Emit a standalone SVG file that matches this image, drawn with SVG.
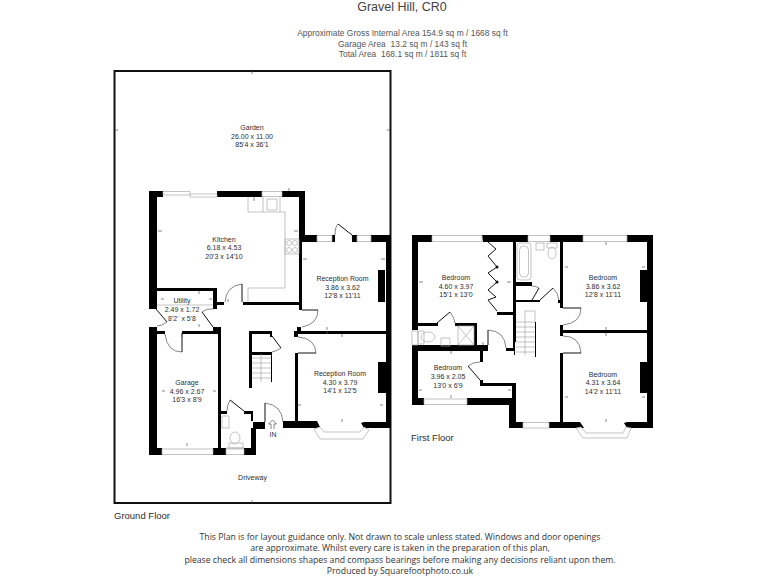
<svg xmlns="http://www.w3.org/2000/svg" width="768" height="576" viewBox="0 0 768 576">
<style>
text{font-family:"Liberation Sans",Arial,sans-serif;fill:#2e2e2e;text-anchor:middle;white-space:pre}
.r{font-size:7px}
.h{font-size:8.4px;fill:#555;letter-spacing:.03px}
.f{font-family:"Open Sans","Liberation Sans",sans-serif;font-size:8.7px;fill:#333}
.fl{font-size:9.5px;text-anchor:start}
.w{fill:#000;stroke:none}
.win{fill:#fff;stroke:#aaa;stroke-width:.7}
.d{fill:none;stroke:#333;stroke-width:.6}
.dl{fill:none;stroke:#111;stroke-width:1}
.st{fill:none;stroke:#aaa;stroke-width:.7}
.t{fill:none;stroke:#555;stroke-width:.7}
</style>
<rect width="768" height="576" fill="#fff"/>
<g id="header">
<text x="402" y="10.500" style="font-size:12.500px;fill:#444">Gravel Hill, CR0</text>
<text class="h" x="402.500" y="36">Approximate Gross Internal Area 154.9 sq m / 1668 sq ft</text>
<text class="h" x="402.500" y="46.500">Garage Area  13.2 sq m / 143 sq ft</text>
<text class="h" x="402.500" y="57">Total Area  168.1 sq m / 1811 sq ft</text>
</g>
<g id="garden"><rect x="114.500" y="71" width="276" height="432" fill="none" stroke="#111" stroke-width="2"/>
<text class="r" x="252" y="130">Garden</text><text class="r" x="252" y="138.500">26.00 x 11.00</text><text class="r" x="252" y="147">85'4 x 36'1</text></g>
<g id="ground-walls">
<path class="w" d="M149 191h14v6h-6v112h-8zM217 191h45v6h-45zM282 191h23v44h12v7h-15v68h-3V197h-17zM332 235h3v7h-3zM352 235h5v7h-5zM371 235h20v193h-27l-3-5 3-1h22V334h-88v3h-4v-6h3v-4h4v4h85V242h-15z"/>
<path class="w" d="M157 288h60v21h-4v-18h-56zM217 302h7v3h-7zM243 302h56v3h-56zM213 327h8v5h-8zM149 327h8v4h8v3h-8v114h5v7h-13zM182 331h39v124h-8v-7h5V334h-36zM226 448h0v7h-13v-7zM244 448h7v-20h2v-7h-2v-7h-7v-3h9v11h12v7h-9v26h-12zM221 411h6v3h-6z"/>
<path class="w" d="M249 331h23v6h-2v-3h-18v54h-3zM252 352h20v30h-1v-27h-19zM283 421h34l3 6-3 1h-34zM295 353h3v68h-3zM378 270h7v32h-7zM378 362h8v31h-8z"/>
<path class="win" d="M163 191.500h27v3.500h-27zM190 194h27v3h-27zM262 191.500h20v5h-20zM317 235.500h15v6h-15zM357 235.500h14v6h-14zM162 449h51v5.500h-51zM226 449h18v5.500h-18z"/>
<path class="win" d="M314 429l6 10h43l6-9-5-3-4 5h-36l-4-5z"/>
</g>
<g id="ground-doors">
<path class="dl" d="M338 224l14 11M156 309l11 13M213 327l-11-15M182 333v19M302 310h16M272 336l9 12M298 353h18M265 403v19M230 400l14 11M242 284v18"/>
<path class="d" d="M335 235q0-8 3-11M167 322q-5 4-10 4M202 312q5-4 11-3M318 310q0 14-16 17M182 352q-15 0-17-18M281 348q-4 3-9 4M298 337q17 1 18 16M265 403q17 2 18 19M230 400q-3 5-3 11M242 284q-16 2-17 18"/>
</g>
<g id="ground-fixtures">
<path class="st" d="M248 197v15h37v76h-37v14M263 197v15M280 197v15M157 305h56M285 239h14v15h-14zM267 199h10v11h-10zM252 358h19M252 363h19M252 368h19M252 373h19M252 378h19M261 354v28M222 416h7v12h-7zM229 443h14v5h-14zM226 448h18"/>
<ellipse class="st" cx="235" cy="438" rx="5" ry="6"/><circle class="st" cx="289" cy="243" r="2.500"/><circle class="st" cx="295" cy="243" r="2.500"/><circle class="st" cx="289" cy="250" r="2.500"/><circle class="st" cx="295" cy="250" r="2.500"/>
<path class="t" d="M271 429v-5h-2.500l4-4 4 4h-2.500v5" />
<path class="t" d="M158 231h4M294 231h4M303 259h4M381 259h4M254 197v4M289 191v-3M228 299v3M199 291v3M199 327v-3M161 299h3M209 299h3M162 391h3M213 391h3M187 446v-3M182 334v3M327 327v3M327 331v3M298 405h3M383 405h-3M342 422v-3M342 334v3M252 71v3M252 503v-3M115 130h3M390 130h-3"/>
</g>
<g id="ground-labels">
<text class="r" x="224" y="241.500">Kitchen</text><text class="r" x="224" y="250">6.18 x 4.53</text><text class="r" x="224" y="259">20'3 x 14'10</text>
<text class="r" x="182" y="303">Utility</text><text class="r" x="182" y="312">2.49 x 1.72</text><text class="r" x="182" y="320.500">8'2` x 5'8</text>
<text class="r" x="342.500" y="281">Reception Room</text><text class="r" x="342.500" y="289.500">3.86 x 3.62</text><text class="r" x="342.500" y="298">12'8 x 11'11</text>
<text class="r" x="340" y="376">Reception Room</text><text class="r" x="340" y="384.500">4.30 x 3.79</text><text class="r" x="340" y="393">14'1 x 12'5</text>
<text class="r" x="187" y="385">Garage</text><text class="r" x="187" y="393.500">4.96 x 2.67</text><text class="r" x="187" y="402">16'3 x 8'9</text>
<text class="r" x="252.500" y="480">Driveway</text><text class="r" x="273" y="437">IN</text>
<text class="fl" x="114" y="519">Ground Floor</text>
</g>
<g id="first-walls">
<path class="w" d="M412 235h20v7h-14v81h20v3h-20v4h-6zM482 235h46v7h-12v58h24v2h-24v40h-1v15h20v-35h1v35h-21v-2h-1v-4h-8v-3h7v-33h-16v-3h16V242h-30z"/>
<path class="w" d="M550 235h33v7h-20v66h-3v-66h-10zM627 235h26v193h-26l-3-5 3-1h20V333h-84v3h-3v-11h3v5h84V242h-20z"/>
<path class="w" d="M560 353h3v69h17l4 6h-35v-6h11zM412 345h76v6h-5v11h-3v-11h-62v47h6v7h-12zM474 323h3v23h-3zM455 323h22v3h-22zM467 398h49v24h7v6h-14v-23h-42zM480 380h3v3h33v15h-4v-12h-32zM516 282h16v4h-16zM558 300h5v3h-5zM640 270h7v32h-7zM640 362h7v31h-7z"/>
<circle class="w" cx="497" cy="267" r="1.500"/><circle class="w" cx="497" cy="282" r="1.500"/>
<path class="win" d="M432 235.500h50v6h-50zM528 235.500h22v6h-22zM583 235.500h44v6h-44zM424 399h43v5.500h-43zM523 422.500h26v5.500h-26zM412 331h6v14h-6z"/>
<path class="win" d="M576 428l7 10h44l4-10-5-1-3 6h-37l-5-6z"/>
</g>
<g id="first-doors">
<path class="dl" d="M532 300l7-12M540 300l13-12M480 380l-12-14M437 323l13-11M488 330v15M563 308h18M563 353h18"/>
<path class="d" d="M539 288q-3-2-7-2M553 288q5 5 6 12M581 308q0 15-18 17M563 336q17 0 18 17M488 330q17 1 18 18M450 312q4 5 5 11M468 366q5-4 12-4"/>
<path class="dl" d="M488 242l8 7-8 7 9 11-9 6 9 9-9 8 8 7-8 3 9 11"/>
</g>
<g id="first-fixtures">
<rect class="st" x="517" y="243" width="14" height="37" rx="3"/><rect class="st" x="519.500" y="246" width="9" height="31" rx="4"/>
<rect class="st" x="536" y="243" width="8" height="7"/><ellipse class="st" cx="552" cy="253" rx="4" ry="6"/>
<path class="st" d="M547 243h10v5h-10zM458 326h16v19h-16zM458 326l16 19M474 326l-16 19M441 338h9v8h-9zM525 311h10v11M516 322h19M516 327h19M516 332h19M516 337h19M516 342h19M516 347h19M516 352h19M525 311v44"/>
<ellipse class="st" cx="428" cy="337" rx="7" ry="5"/><path class="st" d="M418 331h6v13h-6z"/>
<path class="t" d="M419 282h4M511 282h-4M565 267h3M645 267h-3M419 390h3M511 390h-3M565 397h3M645 397h-3M606 242v3M606 330v-3M606 333v3M606 422v-3M451 398v-3M451 351v3M483 345v-3"/>
</g>
<g id="first-labels">
<text class="r" x="456" y="280">Bedroom</text><text class="r" x="456" y="288.500">4.60 x 3.97</text><text class="r" x="456" y="297">15'1 x 13'0</text>
<text class="r" x="603" y="280">Bedroom</text><text class="r" x="603" y="288.500">3.86 x 3.62</text><text class="r" x="603" y="297">12'8 x 11'11</text>
<text class="r" x="448" y="370">Bedroom</text><text class="r" x="448" y="379">3.96 x 2.05</text><text class="r" x="448" y="387.500">13'0 x 6'9</text>
<text class="r" x="603" y="376.500">Bedroom</text><text class="r" x="603" y="385">4.31 x 3.64</text><text class="r" x="603" y="393.500">14'2 x 11'11</text>
<text class="fl" x="411" y="441">First Floor</text>
</g>
<g id="footer">
<text class="f" x="400" y="540">This Plan is for layout guidance only. Not drawn to scale unless stated. Windows and door openings</text>
<text class="f" x="400" y="551">are approximate. Whilst every care is taken in the preparation of this plan,</text>
<text class="f" x="400" y="563">please check all dimensions shapes and compass bearings before making any decisions reliant upon them.</text>
<text class="f" x="400" y="574">Produced by Squarefootphoto.co.uk</text>
</g>
</svg>
